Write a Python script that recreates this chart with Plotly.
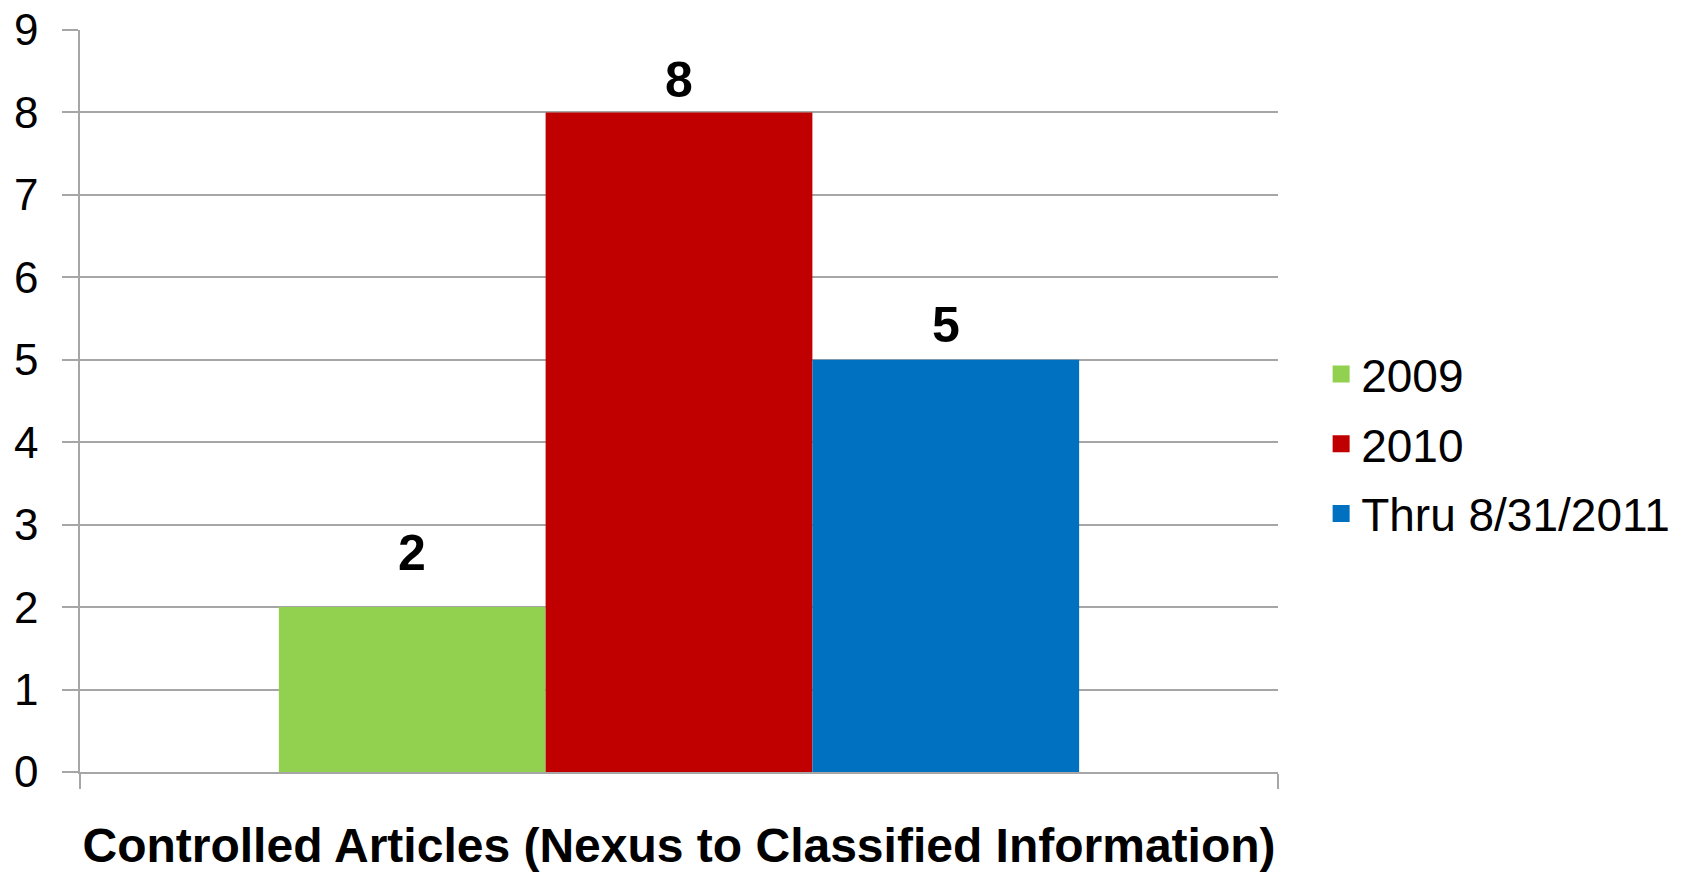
import plotly.graph_objects as go

category = ["Controlled Articles (Nexus to Classified Information)"]
series_names = ["2009", "2010", "Thru 8/31/2011"]
series_values = [2, 8, 5]
series_colors = ["#92D050", "#C00000", "#0070C0"]
label_pad = [35, 13, 16]  # px gap between bar top and its value label

BARGAP = 0.332
GRID = "#a6a6a6"
FONT = "Liberation Sans, Arial, sans-serif"

fig = go.Figure()
for i, (name, val, col) in enumerate(zip(series_names, series_values, series_colors)):
    fig.add_trace(go.Bar(
        x=category, y=[val], name=name, marker=dict(color=col, line=dict(width=0)),
        offsetgroup=str(i), showlegend=False, hoverinfo="y",
    ))
    fig.add_trace(go.Bar(
        x=category, y=[None], name=name, marker=dict(color=col, line=dict(color=col, width=5)),
        offsetgroup=str(i), legendgroup=str(i), showlegend=True,
    ))

n = len(series_names)
bw = (1 - BARGAP) / n
for i, val in enumerate(series_values):
    xc = (i - (n - 1) / 2) * bw
    fig.add_annotation(
        x=xc, y=val, xref="x", yref="y", text=f"<b>{val}</b>", showarrow=False,
        yanchor="bottom", yshift=label_pad[i] - 11,
        font=dict(family=FONT, size=50, color="black"),
    )

fig.update_layout(
    width=1685, height=872, autosize=False,
    margin=dict(l=72, r=415, t=22, b=108),
    paper_bgcolor="white", plot_bgcolor="white",
    barmode="group", bargap=BARGAP, bargroupgap=0,
    font=dict(family=FONT, color="black"),
    legend=dict(
        x=1.036, xanchor="left", y=0.442, yanchor="middle",
        font=dict(family=FONT, size=46, color="black"),
        traceorder="grouped", tracegroupgap=7,
        bgcolor="rgba(0,0,0,0)",
    ),
    xaxis=dict(
        showline=True, linecolor=GRID, linewidth=1.5,
        ticks="outside", tickson="boundaries", ticklen=15, tickcolor=GRID, tickwidth=1.5,
        tickfont=dict(family=FONT, size=48, color="black", weight="bold"),
        tickangle=0, ticklabeloverflow="allow",
        showgrid=False, zeroline=False, ticklabelstandoff=31, automargin=False,
    ),
    yaxis=dict(
        range=[0, 9], dtick=1, tick0=0,
        showgrid=True, gridcolor=GRID, gridwidth=1.5,
        showline=True, linecolor=GRID, linewidth=1.5,
        ticks="outside", ticklen=16, tickcolor=GRID, tickwidth=1.5,
        tickfont=dict(family=FONT, size=44, color="black"),
        ticklabeloverflow="allow",
        zeroline=False, ticklabelstandoff=15, automargin=False,
    ),
)

fig.write_html("out.html")
